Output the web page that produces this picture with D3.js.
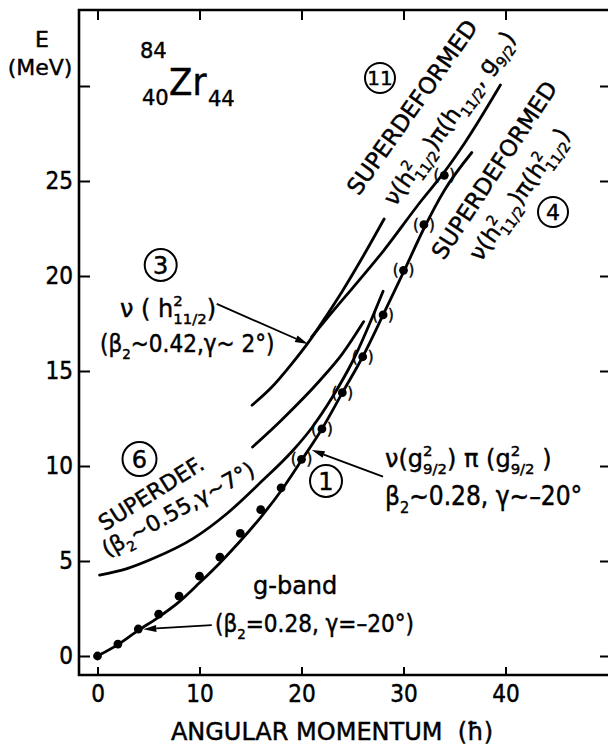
<!DOCTYPE html>
<html><head><meta charset="utf-8">
<script src="https://cdn.jsdelivr.net/npm/d3@7"></script>
<style>
html,body{margin:0;padding:0;background:#fff;}
svg text{font-family:"DejaVu Sans",sans-serif;fill:#000;stroke:#000;stroke-width:0.45px;}
</style></head>
<body>
<svg id="c" width="608" height="748"></svg>
<script>
// ---------- data ----------
const spinExp   = [0,2,4,6,8,10,12,14,16,18,20,22,24,26,28,30,32,34];
const energyExp = [0,0.63,1.42,2.2,3.15,4.2,5.2,6.45,7.7,8.85,10.35,11.95,13.86,15.75,17.95,20.3,22.7,25.3];
const tentativeFromSpin = 20;

const band1Spin   = [0,2,4,6,8,10,12,14,16,18,20,22,24,26,28,30,32,34,36.7];
const band1Energy = [0,0.6,1.35,2.05,2.85,3.85,4.9,6.05,7.3,8.7,10.3,11.95,13.85,15.75,17.95,20.2,22.5,24.5,26.5];

const band6Spin   = [0.2,2.9,5.5,9.4,12.7,15.9,19.2,21,23,25,28];
const band6Energy = [4.26,4.6,5.14,6.19,7.5,9.09,10.84,12.0,13.6,15.5,19.2];

const band4Spin   = [15.2,18,21.8,24,26.1];
const band4Energy = [11.0,12.4,14.5,15.9,17.6];

const band3Spin   = [15.15,17,19,20.8,22.5,24,26,28.1];
const band3Energy = [13.2,14.1,15.35,16.6,17.95,19.2,21.0,23.0];

const band11Spin   = [21,23,24.9,28,31.8,33.9,36,39.5];
const band11Energy = [16.8,18.1,19.3,21.3,24.0,25.4,27.0,30.05];

const xTicks = [0,10,20,30,40];
const yTicks = [0,5,10,15,20,25,30];
const yTickLabels = ["0","5","10","15","20","25",""];

// ---------- layout ----------
const svg = d3.select("#c");
const COND = "'DejaVu Sans Condensed',sans-serif";
const L = 79, R = 610, T = 10, B = 675;
const x = d3.scaleLinear().domain([0,50]).range([97.5,607.5]);
const y = d3.scaleLinear().domain([0,30]).range([656,86]);

// frame
svg.append("path").attr("d",`M${L},${T}H${R}V${B}H${L}Z`)
  .attr("stroke","#000").attr("stroke-width",2.6).attr("fill","none");

// axes
const axB = d3.axisBottom(x).tickValues(xTicks).tickSize(-8).tickSizeOuter(0).tickPadding(10).tickFormat(d3.format("d"));
const gB = svg.append("g").attr("transform",`translate(0,${B})`).call(axB);
const axT = d3.axisTop(x).tickValues(xTicks).tickSize(-10).tickSizeOuter(0).tickFormat("");
const gT = svg.append("g").attr("transform",`translate(0,${T})`).call(axT);
const axL = d3.axisLeft(y).tickValues(yTicks).tickSize(-11).tickSizeOuter(0).tickPadding(6).tickFormat((d,i)=>yTickLabels[i]);
const gL = svg.append("g").attr("transform",`translate(${L},0)`).call(axL);
const axR = d3.axisRight(y).tickValues(yTicks).tickSize(-10).tickSizeOuter(0).tickFormat("");
const gR = svg.append("g").attr("transform",`translate(${R},0)`).call(axR);
[gB,gT,gL,gR].forEach(g=>{
  g.select(".domain").remove();
  g.selectAll(".tick line").attr("stroke","#000").attr("stroke-width",2);
  g.selectAll(".tick text").style("font-family",COND).attr("font-size",24).attr("fill","#000");
});

// axis titles
svg.append("text").attr("x",42).attr("y",47).attr("text-anchor","middle").attr("font-size",22).text("E");
svg.append("text").attr("x",40).attr("y",75).attr("text-anchor","middle").attr("font-size",22).text("(MeV)");
svg.append("text").attr("x",332).attr("y",740).attr("text-anchor","middle").attr("font-size",24)
   .attr("xml:space","preserve").text("ANGULAR MOMENTUM  (\u0127)");

// nucleus label
const nuc = svg.append("g");
nuc.append("text").attr("x",140).attr("y",58).attr("font-size",21).text("84");
nuc.append("text").attr("x",142).attr("y",105).attr("font-size",21).text("40");
nuc.append("text").attr("x",169).attr("y",95).attr("font-size",38).style("font-family",COND).text("Zr");
nuc.append("text").attr("x",208).attr("y",106).attr("font-size",21).text("44");

// ---------- curves ----------
const line = d3.line().x(d=>x(d[0])).y(d=>y(d[1])).curve(d3.curveMonotoneX);
const bands = [
  [band1Spin,band1Energy],[band6Spin,band6Energy],[band4Spin,band4Energy],
  [band3Spin,band3Energy],[band11Spin,band11Energy]
];
svg.append("g").selectAll("path").data(bands).join("path")
  .attr("d",b=>line(d3.zip(b[0],b[1])))
  .attr("fill","none").attr("stroke","#000").attr("stroke-width",2.8).attr("stroke-linecap","round");

// ---------- experimental points ----------
const pts = d3.zip(spinExp,energyExp);
const gp = svg.append("g");
gp.selectAll("circle").data(pts).join("circle")
  .attr("cx",d=>x(d[0])).attr("cy",d=>y(d[1])).attr("r",4.4).attr("fill","#000");
const tent = pts.filter(d=>d[0]>=tentativeFromSpin);
gp.selectAll("text.l").data(tent).join("text").attr("class","l")
  .attr("x",d=>x(d[0])-5).attr("y",d=>y(d[1])+5).attr("text-anchor","end").attr("font-size",15).text("(");
gp.selectAll("text.r").data(tent).join("text").attr("class","r")
  .attr("x",d=>x(d[0])+5).attr("y",d=>y(d[1])+5).attr("text-anchor","start").attr("font-size",15).text(")");

// ---------- rich text helper ----------
function rich(parent, pieces, size, fam){
  const g = parent.append("g");
  let cx=0, lastX=0, lastW=0;
  pieces.forEach(p=>{
    const fs = size*(p.s||1);
    const px = p.stack ? lastX : cx;
    const t = g.append("text").attr("x",px).attr("y",(p.dy||0)*size).attr("font-size",fs)
       .attr("xml:space","preserve").text(p.t);
    if(fam) t.style("font-family",fam);
    const w = t.node().getComputedTextLength();
    if(p.stack){ cx = lastX + Math.max(lastW,w); }
    else { lastX = cx; lastW = w; cx += w; }
  });
  g.total = cx;
  return g;
}
function label(pieces,size,cx,cy,angle,anchor,fam){
  const outer = svg.append("g").attr("transform",`translate(${cx},${cy}) rotate(${angle||0})`);
  const g = rich(outer,pieces,size,fam);
  const off = anchor==="start"?0:-g.total/2;
  const vy = anchor==="start"?0:0.36*size;
  g.attr("transform",`translate(${off},${vy})`);
  return outer;
}
const sup = t=>({t, s:0.62, dy:-0.45});
const sub = t=>({t, s:0.62, dy:0.3});
const subS = t=>({t, s:0.62, dy:0.3, stack:true});

// circled numbers
function circled(txt,cx,cy,r,fs){
  svg.append("circle").attr("cx",cx).attr("cy",cy).attr("r",r).attr("fill","none").attr("stroke","#000").attr("stroke-width",2);
  svg.append("text").attr("x",cx).attr("y",cy+fs*0.36).attr("text-anchor","middle").attr("font-size",fs).text(txt);
}
circled("11",380,78,15,20);
circled("4",553,212,15,22);
circled("3",160.7,265,16,24);
circled("6",139.5,459,17,24);
circled("1",326,481,16,24);

// band 11 labels
label([{t:"SUPERDEFORMED"}],23,412,107,-54.7);
label([{t:"\u03bd(h"},sup("2"),subS("11/2"),{t:")\u03c0(h"},sub("11/2"),{t:", g"},sub("9/2"),{t:")"}],23,449,118,-54.3);
// band 4 labels
label([{t:"SUPERDEFORMED"}],23,494,170,-56.5);
label([{t:"\u03bd(h"},sup("2"),subS("11/2"),{t:")\u03c0(h"},sup("2"),subS("11/2"),{t:")"}],23,519,194,-54.8);
// band 6 labels
label([{t:"SUPERDEF."}],22,151,493,-32);
label([{t:"(\u03b2"},sub("2"),{t:"~0.55,\u03b3~7\u00b0)"}],22,178,509,-29);
// band 3 labels
label([{t:"\u03bd ( h"},sup("2"),subS("11/2"),{t:")"}],24,120,317,0,"start");
label([{t:"(\u03b2"},sub("2"),{t:"~0.42,\u03b3~ 2\u00b0)"}],24,100,352,0,"start",COND);
// band 1 labels
label([{t:"\u03bd(g"},sup("2"),subS("9/2"),{t:") \u03c0 (g"},sup("2"),subS("9/2"),{t:" )"}],24,385,467,0,"start");
label([{t:"\u03b2"},sub("2"),{t:"~0.28, \u03b3~\u201320\u00b0"}],26,385,505,0,"start",COND);
// g-band
label([{t:"g-band"}],24,253,594,0,"start");
label([{t:"(\u03b2"},sub("2"),{t:"=0.28, \u03b3=\u201320\u00b0)"}],24,215,632,0,"start",COND);

// ---------- arrows (tips in data coordinates) ----------
const arrows = [
  {from:[11.69,18.53], to:[20.64,16.42]},
  {from:[27.99,9.44],  to:[21.0,10.84]},
  {from:[11.2,1.63],   to:[4.49,1.41]}
];
const ga = svg.append("g");
arrows.forEach(a=>{
  const x1=x(a.from[0]), y1=y(a.from[1]), x2=x(a.to[0]), y2=y(a.to[1]);
  const ang = Math.atan2(y2-y1,x2-x1), len=13, hw=3.5;
  const bx = x2-len*Math.cos(ang), by = y2-len*Math.sin(ang);
  ga.append("line").attr("x1",x1).attr("y1",y1).attr("x2",bx).attr("y2",by).attr("stroke","#000").attr("stroke-width",1.8);
  const px=-Math.sin(ang)*hw, py=Math.cos(ang)*hw;
  ga.append("path").attr("d",`M${x2},${y2}L${bx+px},${by+py}L${bx-px},${by-py}Z`).attr("fill","#000");
});
</script>
</body></html>
